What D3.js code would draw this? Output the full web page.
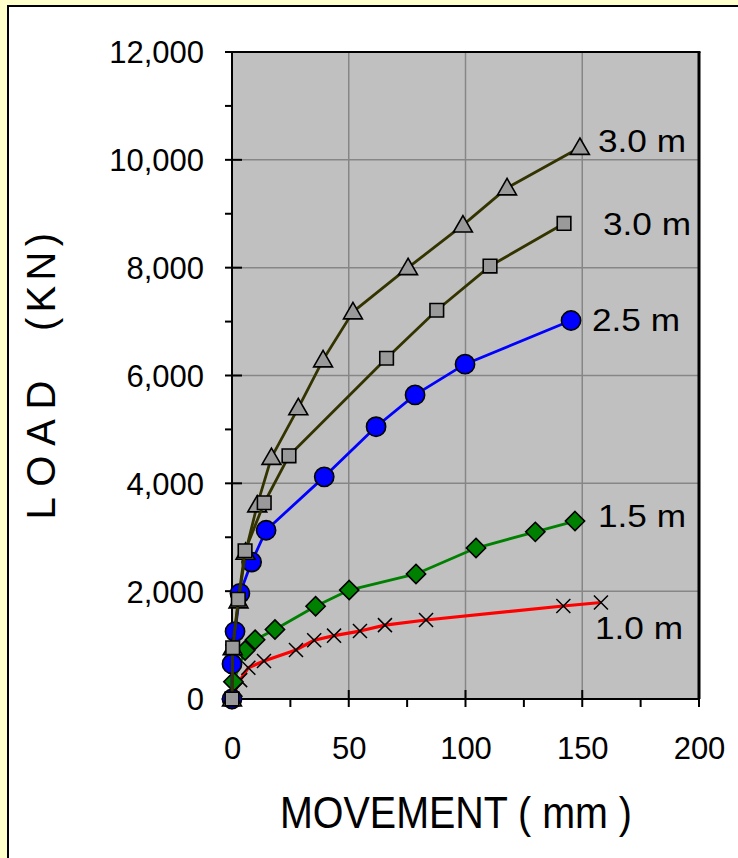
<!DOCTYPE html>
<html>
<head>
<meta charset="utf-8">
<script src="https://cdn.jsdelivr.net/npm/d3@7"></script>
<style>
  html, body { margin: 0; padding: 0; background: #FFFFCC; }
  svg { display: block; }
  text { font-family: "Liberation Sans", Arial, Helvetica, sans-serif; fill: #000; }
</style>
</head>
<body>
<svg id="chart" width="738" height="858"></svg>
<script>
// Load–movement curves for piles of different diameter
const seriesNames = ["3.0 m", "3.0 m", "2.5 m", "1.5 m", "1.0 m"];

const moveTri = [0, 0.3, 2.8, 5.8, 10.8, 16.9, 28.4, 39.0, 51.8, 75.4, 98.9, 117.8, 149.0];
const loadTri = [0, 950, 1820, 2720, 3600, 4480, 5400, 6290, 7180, 8000, 8790, 9480, 10230];

const moveSq = [0, 0.3, 2.7, 5.6, 13.8, 24.4, 66.2, 87.7, 110.5, 142.2];
const loadSq = [0, 950, 1850, 2750, 3640, 4510, 6320, 7210, 8030, 8820];

const moveCircle = [0, 0, 1.3, 3.4, 8.4, 14.6, 39.5, 61.7, 78.4, 99.8, 145.2];
const loadCircle = [0, 650, 1250, 1960, 2540, 3130, 4120, 5050, 5640, 6210, 7020];

const moveDiamond = [0, 0.6, 5.6, 9.9, 18.4, 35.8, 50.2, 78.8, 104.5, 129.9, 146.9];
const loadDiamond = [0, 320, 900, 1100, 1290, 1720, 2020, 2320, 2800, 3100, 3300];

const moveCross = [0, 1.5, 3.5, 7.0, 13.7, 27.4, 35.2, 43.7, 54.8, 65.5, 83.1, 141.9, 158.0];
const loadCross = [0, 170, 350, 580, 705, 910, 1090, 1175, 1260, 1370, 1465, 1725, 1790];

const xTicks = [0, 50, 100, 150, 200];
const yTicks = [0, 2000, 4000, 6000, 8000, 10000, 12000];

const svg = d3.select("#chart");

// white panel with dark frame
svg.append("rect")
  .attr("x", 8).attr("y", 6).attr("width", 800).attr("height", 900)
  .attr("fill", "#fff").attr("stroke", "#000").attr("stroke-width", 2);

const x = d3.scaleLinear().domain([0, 200]).range([232, 699]);
const y = d3.scaleLinear().domain([0, 12000]).range([699, 52]);

// plot background
svg.append("rect")
  .attr("x", x(0)).attr("y", y(12000))
  .attr("width", x(200) - x(0)).attr("height", y(0) - y(12000))
  .attr("fill", "#C0C0C0");

// gridlines
const grid = svg.append("g").attr("stroke", "#868686").attr("stroke-width", 1.5);
grid.selectAll(".gx").data(xTicks.slice(1, -1)).join("line")
  .attr("x1", d => x(d)).attr("x2", d => x(d))
  .attr("y1", y(0)).attr("y2", y(12000));
grid.selectAll(".gy").data(yTicks.slice(1, -1)).join("line")
  .attr("x1", x(0)).attr("x2", x(200))
  .attr("y1", d => y(d)).attr("y2", d => y(d));

// plot frame: top and right
svg.append("line").attr("x1", x(0)).attr("x2", x(200) + 1.5)
  .attr("y1", y(12000)).attr("y2", y(12000)).attr("stroke", "#000").attr("stroke-width", 2);
svg.append("line").attr("x1", x(200)).attr("x2", x(200))
  .attr("y1", y(12000)).attr("y2", y(0)).attr("stroke", "#000").attr("stroke-width", 3);

// axes lines and ticks
const ax = svg.append("g").attr("stroke", "#000").attr("stroke-width", 2);
ax.append("line").attr("x1", x(0)).attr("x2", x(0)).attr("y1", y(12000)).attr("y2", y(0) + 1);
ax.append("line").attr("x1", x(0) - 1).attr("x2", x(200) + 1).attr("y1", y(0)).attr("y2", y(0));

const yMinor = d3.range(1000, 12000, 2000);
ax.selectAll(".ymaj").data(yTicks).join("line")
  .attr("x1", x(0) - 7).attr("x2", x(0) + 10)
  .attr("y1", d => y(d)).attr("y2", d => y(d));
ax.selectAll(".ymin").data(yMinor).join("line")
  .attr("x1", x(0) - 7).attr("x2", x(0))
  .attr("y1", d => y(d)).attr("y2", d => y(d));

const xMinor = d3.range(25, 200, 50);
ax.selectAll(".xmaj").data(xTicks.slice(1)).join("line")
  .attr("x1", d => x(d)).attr("x2", d => x(d))
  .attr("y1", y(0) - 9).attr("y2", y(0) + 8);
ax.selectAll(".xmin").data(xMinor).join("line")
  .attr("x1", d => x(d)).attr("x2", d => x(d))
  .attr("y1", y(0)).attr("y2", y(0) + 8);

// tick labels via d3 axes (tick marks drawn above)
const yAxis = svg.append("g")
  .attr("transform", `translate(${x(0) - 28},0)`)
  .call(d3.axisLeft(y).tickValues(yTicks).tickSize(0).tickPadding(0).tickFormat(d3.format(",")));
yAxis.select(".domain").remove();
yAxis.selectAll("text").attr("font-size", 31).attr("font-family", '"Liberation Sans", Arial, sans-serif')
  .attr("fill", "#000").attr("dy", "0.35em");

const xAxis = svg.append("g")
  .attr("transform", `translate(0,${y(0) + 38})`)
  .call(d3.axisBottom(x).tickValues(xTicks).tickSize(0).tickPadding(0));
xAxis.select(".domain").remove();
xAxis.selectAll("text").attr("font-size", 31).attr("font-family", '"Liberation Sans", Arial, sans-serif')
  .attr("fill", "#000").attr("dy", "0.71em");

// axis titles
const yTitle = svg.append("g").attr("transform", "translate(55,0) rotate(-90)");
yTitle.append("text")
  .attr("x", -450).attr("text-anchor", "middle")
  .attr("font-size", 40)
  .attr("textLength", 139).attr("lengthAdjust", "spacing")
  .text("L O A D");
yTitle.append("text")
  .attr("x", -282).attr("text-anchor", "middle")
  .attr("font-size", 40)
  .attr("textLength", 98).attr("lengthAdjust", "spacing")
  .text("(KN)");

svg.append("text")
  .attr("x", 280).attr("y", 828)
  .attr("font-size", 44)
  .attr("textLength", 352).attr("lengthAdjust", "spacingAndGlyphs")
  .text("MOVEMENT  ( mm )");

// series
const line = d3.line().x(d => x(d[0])).y(d => y(d[1]));
const zipPts = (xs, ys) => xs.map((v, i) => [v, ys[i]]);

const series = [
  { pts: zipPts(moveCross, loadCross), color: "#FF0000", w: 3.2, marker: "cross" },
  { pts: zipPts(moveDiamond, loadDiamond), color: "#008000", w: 2.8, marker: "diamond" },
  { pts: zipPts(moveCircle, loadCircle), color: "#0000FF", w: 2.8, marker: "circle" },
  { pts: zipPts(moveTri, loadTri), color: "#333300", w: 2.8, marker: "triangle" },
  { pts: zipPts(moveSq, loadSq), color: "#333300", w: 2.8, marker: "square" }
];

const symbolFor = {
  diamond: d3.symbol().type(d3.symbolDiamond2).size(235),
  circle: d3.symbol().type(d3.symbolCircle).size(290),
  triangle: d3.symbol().type(d3.symbolTriangle).size(155),
  square: d3.symbol().type(d3.symbolSquare).size(185),
  cross: d3.symbol().type(d3.symbolX).size(130)
};

series.forEach(s => {
  const g = svg.append("g");
  g.append("path").datum(s.pts).attr("d", line)
    .attr("fill", "none").attr("stroke", s.color).attr("stroke-width", s.w)
    .attr("stroke-linejoin", "round");
  const m = g.selectAll("path.m").data(s.pts).join("path").attr("class", "m")
    .attr("transform", d => `translate(${x(d[0])},${y(d[1]) + (s.marker === "triangle" ? 1.5 : 0)})`)
    .attr("d", symbolFor[s.marker]());
  if (s.marker === "cross") {
    m.attr("fill", "none").attr("stroke", "#000").attr("stroke-width", 1.5);
  } else {
    const fill = s.marker === "diamond" ? "#008000" : s.marker === "circle" ? "#0000FF" : "#9A9A9A";
    m.attr("fill", fill).attr("stroke", "#000").attr("stroke-width", 1.6);
  }
});

// series labels
const labelPos = [[598, 152], [603, 235], [592, 331], [598, 527], [595, 639]];
svg.selectAll(".slabel").data(seriesNames).join("text")
  .attr("x", (d, i) => labelPos[i][0]).attr("y", (d, i) => labelPos[i][1])
  .attr("font-size", 32)
  .attr("textLength", 88).attr("lengthAdjust", "spacingAndGlyphs")
  .text(d => d);
</script>
</body>
</html>
